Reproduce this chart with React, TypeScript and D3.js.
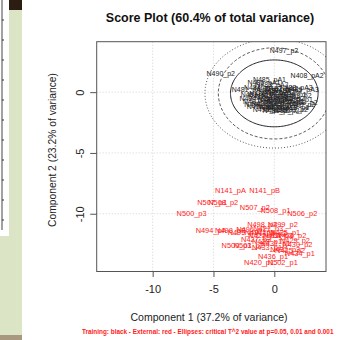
import { useEffect, useRef } from "react";
import * as d3 from "d3";

// training samples (black)
const trainNames = [
  "N497_p2", "N490_p2", "N408_pA2", "N481_pA", "N486_pA1", "N485_pA1", "N483_pA2", "N488_pA3",
  "N489_pA3", "N482_pA2", "N484_pA", "N487_pA", "N481_p1", "N482_p1", "N483_p1", "N484_p1",
  "N485_p1", "N486_p1", "N487_p1", "N488_p1", "N489_p1", "N491_p1", "N492_p1", "N493_p1",
  "N494_p1", "N495_p1", "N496_p1", "N497_p1", "N498_p1", "N499_p1", "N481_p2", "N482_p2",
  "N483_p2", "N484_p2", "N485_p2", "N486_p2", "N487_p2", "N488_p2", "N489_p2", "N491_p2",
  "N492_p2", "N493_p2", "N494_p2", "N495_p2", "N496_p2", "N498_p2", "N499_p2",
];
const trainX = [
  0.8, -4.4, 2.7, -2.3, -0.85, -0.4, -0.2, 1.8,
  2.3, 0.6, -1.3, 0.2, -1.6, -1.0, -0.4, 0.3,
  0.9, 1.5, -1.4, -0.7, 0.0, 0.7, 1.3, 2.0,
  -1.1, -0.3, 0.4, 1.1, 1.7, -0.6, 0.2, 0.9,
  1.6, -1.7, -0.9, 0.5, 1.1, -0.1, 2.2, -0.2,
  0.6, 1.9, -1.3, -0.5, 1.3, 2.4, 0.0,
];
const trainY = [
  3.4, 1.56, 1.33, 0.25, 0.8, 1.0, 0.6, 0.35,
  0.2, 0.3, 0.4, 0.1, -0.2, -0.4, -0.3, -0.5,
  -0.35, -0.2, -0.8, -0.9, -0.75, -0.95, -0.8, -0.6,
  -1.2, -1.15, -1.3, -1.1, -1.25, -1.45, -1.55, -1.5,
  -1.45, -0.55, -0.1, 0.0, 0.15, -0.05, -1.0, -0.6,
  -0.7, -0.3, -1.0, 0.3, -0.55, -0.85, -1.3,
];

// external samples (red)
const extNames = [
  "N141_pA", "N141_pB", "N507_p1", "N508_p2", "N500_p3", "N507_p2", "N508_p1", "N506_p2",
  "N494_pA", "N498_pB", "N498_p2", "N499_p2", "N495_p1", "N496_p1", "N497_p2", "N421_p3",
  "N422_p1", "N423_p2", "N424_p3", "N425_p1", "N426_p2", "N427_p3", "N428_p1", "N429_p2",
  "N430_p2", "N431_p1", "N500_p1", "N503_p2", "N432_p3", "N433_p1", "N434_p1", "N436_p1",
  "N420_p1", "N502_p1", "N435_p2",
];
const extX = [
  -3.6, -0.8, -5.1, -4.2, -6.8, -1.6, 0.1, 2.3,
  -5.2, -3.6, -1.0, 0.7, -2.6, -1.9, -1.2, -0.5,
  -0.9, -0.2, 0.3, 0.9, 1.4, -1.5, -0.6, 1.7,
  1.9, 0.1, -3.1, -2.1, 0.9, -0.6, 2.1, -0.1,
  -1.25, 0.7, 1.3,
];
const extY = [
  -8.1, -8.1, -9.1, -9.1, -10.0, -9.5, -9.7, -10.0,
  -11.4, -11.35, -10.85, -10.9, -11.55, -11.3, -11.5, -11.2,
  -11.8, -11.6, -11.8, -11.5, -11.75, -12.1, -12.3, -12.2,
  -12.5, -12.4, -12.6, -12.6, -12.9, -12.8, -13.3, -13.5,
  -14.0, -14.0, -13.0,
];

// critical T^2 ellipses (p = 0.05, 0.01, 0.001)
const ellipseA = [3.6, 4.6, 5.7];
const ellipseB = [2.75, 3.75, 4.5];
const ellipseCenter = [0, -0.1];

const xTicks = [-10, -5, 0];
const yTicks = [0, -5, -10];
const xDomain = [-14.6, 4.25];
const yDomain = [-14.75, 4.15];

const title = "Score Plot (60.4% of total variance)";
const xTitle = "Component 1 (37.2% of variance)";
const yTitle = "Component 2 (23.2% of variance)";
const caption =
  "Training: black - External: red - Ellipses: critical T^2 value at p=0.05, 0.01 and 0.001";

export default function App() {
  const svgRef = useRef<SVGSVGElement>(null);

  useEffect(() => {
    if (!svgRef.current) return;
    const svg = d3.select(svgRef.current);
    svg.selectAll("*").remove();

    const width = 345;
    const height = 340;
    const font = "'Liberation Sans', Arial, sans-serif";
    const plot = { left: 96.7, right: 326, top: 41.7, bottom: 271.5 };

    // left strip (cropped neighbour figure)
    svg.append("rect").attr("x", 0).attr("y", 0).attr("width", width).attr("height", height).attr("fill", "#fff");
    svg.append("rect").attr("x", 0).attr("y", 0).attr("width", 22).attr("height", height).attr("fill", "#dbe5c5");
    svg.append("rect").attr("x", 0).attr("y", 0).attr("width", 9).attr("height", 236).attr("fill", "#fff");
    svg.append("rect").attr("x", 9).attr("y", 0).attr("width", 13).attr("height", 10).attr("fill", "#2c1d13");
    svg.append("rect").attr("x", 0).attr("y", 335).attr("width", 22).attr("height", 5).attr("fill", "#a8987f");
    svg.append("line").attr("x1", 2).attr("x2", 2).attr("y1", 0).attr("y2", 230).attr("stroke", "#444").attr("stroke-width", 1);
    d3.range(20, 230, 20).forEach((ty) => {
      svg.append("line").attr("x1", 2).attr("x2", 4).attr("y1", ty).attr("y2", ty).attr("stroke", "#333");
    });

    const x = d3.scaleLinear().domain(xDomain).range([plot.left, plot.right]);
    const y = d3.scaleLinear().domain(yDomain).range([plot.bottom, plot.top]);

    svg.append("defs").append("clipPath").attr("id", "plot-clip")
      .append("rect")
      .attr("x", plot.left).attr("y", plot.top)
      .attr("width", plot.right - plot.left).attr("height", plot.bottom - plot.top);

    // grid
    const grid = svg.append("g").attr("stroke", "#c8c8c8").attr("stroke-dasharray", "1,2").attr("stroke-width", 0.8);
    xTicks.forEach((t) => {
      grid.append("line").attr("x1", x(t)).attr("x2", x(t)).attr("y1", plot.top).attr("y2", plot.bottom);
    });
    yTicks.forEach((t) => {
      grid.append("line").attr("x1", plot.left).attr("x2", plot.right).attr("y1", y(t)).attr("y2", y(t));
    });

    const inner = svg.append("g").attr("clip-path", "url(#plot-clip)");

    // ellipses
    const dashes = [null, "3,2", "1,2"];
    const theta = d3.range(0, 2 * Math.PI + 0.01, Math.PI / 90);
    const ellipseLine = d3.line<number>();
    ellipseA.forEach((a, i) => {
      const b = ellipseB[i];
      ellipseLine
        .x((t) => x(ellipseCenter[0] + a * Math.cos(t)))
        .y((t) => y(ellipseCenter[1] + b * Math.sin(t)));
      inner.append("path")
        .attr("d", ellipseLine(theta))
        .attr("fill", "none")
        .attr("stroke", i === 0 ? "#222" : "#444")
        .attr("stroke-width", i === 0 ? 1 : 0.9)
        .attr("stroke-dasharray", dashes[i]);
    });

    // labels
    inner.selectAll(".train")
      .data(trainNames)
      .enter()
      .append("text")
      .attr("class", "train")
      .attr("x", (_, i) => x(trainX[i]))
      .attr("y", (_, i) => y(trainY[i]))
      .attr("dy", "0.35em")
      .attr("text-anchor", "middle")
      .attr("font-family", font)
      .attr("font-size", 7)
      .attr("fill", "#222")
      .text((d) => d);

    inner.selectAll(".ext")
      .data(extNames)
      .enter()
      .append("text")
      .attr("class", "ext")
      .attr("x", (_, i) => x(extX[i]))
      .attr("y", (_, i) => y(extY[i]))
      .attr("dy", "0.35em")
      .attr("text-anchor", "middle")
      .attr("font-family", font)
      .attr("font-size", 7.4)
      .attr("fill", "#ff1a1a")
      .text((d) => d);

    // box
    svg.append("rect")
      .attr("x", plot.left).attr("y", plot.top)
      .attr("width", plot.right - plot.left).attr("height", plot.bottom - plot.top)
      .attr("fill", "none").attr("stroke", "#555").attr("stroke-width", 1);

    // axes
    const xAxis = svg.append("g")
      .attr("transform", `translate(0,${plot.bottom})`)
      .call(d3.axisBottom(x).tickValues(xTicks).tickSize(5.5).tickPadding(8).tickFormat(d3.format("d")));
    const yAxis = svg.append("g")
      .attr("transform", `translate(${plot.left},0)`)
      .call(d3.axisLeft(y).tickValues(yTicks).tickSize(6.5).tickPadding(8).tickFormat(d3.format("d")));
    [xAxis, yAxis].forEach((ax) => {
      ax.select(".domain").remove();
      ax.selectAll(".tick line").attr("stroke", "#555");
      ax.selectAll("text")
        .attr("fill", "#222")
        .attr("font-family", font)
        .attr("font-size", 11);
    });
    xAxis.selectAll(".tick text").text((d: any) => String(d));
    yAxis.selectAll(".tick text")
      .text((d: any) => String(d))
      .attr("x", null)
      .attr("dy", null)
      .attr("text-anchor", "middle")
      .attr("transform", "translate(-16.5,0) rotate(-90) translate(0,4)");

    // titles
    svg.append("text")
      .attr("x", 210).attr("y", 21.5)
      .attr("text-anchor", "middle")
      .attr("font-family", font).attr("font-weight", "bold").attr("font-size", 12.5)
      .attr("fill", "#111")
      .text(title);
    svg.append("text")
      .attr("x", 209).attr("y", 321)
      .attr("text-anchor", "middle")
      .attr("font-family", font).attr("font-size", 10.5)
      .attr("fill", "#222")
      .text(xTitle);
    svg.append("text")
      .attr("transform", "translate(56,150) rotate(-90)")
      .attr("text-anchor", "middle")
      .attr("font-family", font).attr("font-size", 10.3)
      .attr("fill", "#222")
      .text(yTitle);
    svg.append("text")
      .attr("x", 82).attr("y", 334)
      .attr("font-family", font).attr("font-weight", "bold").attr("font-size", 6.4)
      .attr("fill", "#ff1a1a")
      .text(caption);
  }, []);

  return (
    <svg
      ref={svgRef}
      width={345}
      height={340}
      style={{ position: "absolute", left: 0, top: 0, display: "block" }}
    />
  );
}
